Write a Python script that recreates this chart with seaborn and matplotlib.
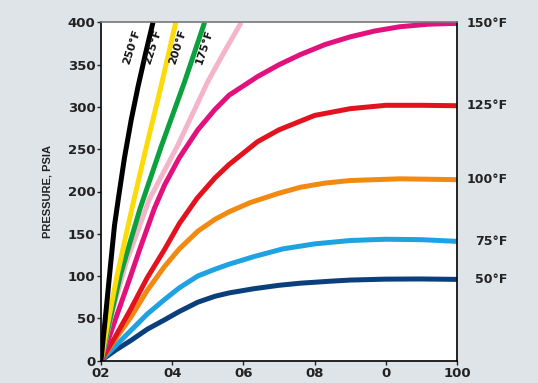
import seaborn as sns
import matplotlib.pyplot as plt
import pandas as pd

# curve data (x = % scale, y = pressure psia)
x_50 = [0, 4, 8.5, 13, 17.8, 22, 27.2, 32, 36, 43, 50, 56, 65, 70, 80, 90, 100]
p_50 = [0, 12, 24, 37, 48, 58, 69, 76, 80, 85, 89, 91.5, 94, 95.2, 96.3, 96.5, 96]

x_75 = [0, 4, 8.5, 13, 17.8, 22, 27.2, 32, 36, 43, 51, 60, 70, 80, 90, 100]
p_75 = [0, 17, 36, 55, 72, 86, 100, 108, 114, 123, 132, 138, 142, 143.5, 143, 141]

x_100 = [0, 4, 8.5, 13, 17.8, 22, 27.2, 32, 36, 42, 50, 56, 63, 70, 84, 100]
p_100 = [0, 25, 52, 83, 111, 132, 153, 167, 176, 187, 198, 205, 210, 213, 215, 214]

x_125 = [0, 4, 8.5, 13, 17.8, 22, 27, 32, 36, 44, 50, 60, 70, 80, 90, 100]
p_125 = [0, 28, 62, 98, 131, 162, 192, 216, 232, 259, 273, 290, 298, 302, 302, 301.5]

x_150 = [0, 4, 8, 11, 15, 17.9, 22, 27.2, 32, 36, 44, 50, 56, 63, 70, 77, 84, 92, 100]
p_150 = [0, 48, 96, 133, 180, 208, 240, 273, 297, 314, 336, 350, 362, 374, 383, 390, 395, 398, 399]

x_175 = [0, 3, 7, 13.5, 21.6, 30, 35, 39.4]
p_175 = [0, 55, 115, 190, 255, 330, 368, 400]

x_200 = [0, 2.5, 5.5, 11, 16.9, 23.5, 29.1]
p_200 = [0, 48, 102, 180, 253, 330, 400]

x_225 = [0, 2, 4.5, 8.7, 12.3, 16.9, 21]
p_225 = [0, 46, 100, 180, 245, 325, 400]

x_250 = [0, 1.5, 2.8, 3.8, 5, 6.6, 8.5, 10.4, 12.5, 14.6]
p_250 = [0, 62, 118, 160, 195, 240, 285, 324, 363, 400]

x_ticks = [0, 20, 40, 60, 80, 100]
x_tick_labels = ["02", "04", "06", "08", "0", "100"]
y_ticks = [0, 50, 100, 150, 200, 250, 300, 350, 400]

curves = [
    ("50°F", x_50, p_50, "#0b3f7c"),
    ("75°F", x_75, p_75, "#1fa2e2"),
    ("100°F", x_100, p_100, "#f28a12"),
    ("125°F", x_125, p_125, "#e2131f"),
    ("150°F", x_150, p_150, "#e2117c"),
    ("175°F", x_175, p_175, "#f4b5cb"),
    ("200°F", x_200, p_200, "#0ba13e"),
    ("225°F", x_225, p_225, "#fbdc0a"),
    ("250°F", x_250, p_250, "#000000"),
]

sns.set_style("ticks")
plt.rcParams['font.family'] = ['DejaVu Sans']

fig = plt.figure(figsize=(5.38, 3.83), dpi=100)
fig.patch.set_facecolor("#dfe4e9")
ax = fig.add_axes([0.1877, 0.0587, 0.6617, 0.8826])
ax.set_facecolor("white")

for label, xs, ps, color in curves:
    df = pd.DataFrame({"x": xs, "p": ps})
    sns.lineplot(data=df, x="x", y="p", color=color, linewidth=3.6,
                 solid_capstyle="butt", solid_joinstyle="round", ax=ax)

ax.set_xlim(0, 100)
ax.set_ylim(0, 400)
ax.set_xticks(x_ticks)
ax.set_xticklabels(x_tick_labels)
ax.set_yticks(y_ticks)
ax.set_xlabel("")
ax.set_ylabel("PRESSURE, PSIA", fontsize=8, fontweight="bold",
              family="Liberation Sans", color="#222222", labelpad=11)
ax.tick_params(axis="both", length=3, width=1, colors="#222222",
               labelsize=9.5)
for lab in ax.get_xticklabels() + ax.get_yticklabels():
    lab.set_fontweight("bold")
ax.tick_params(axis="y", pad=1)
ax.tick_params(axis="x", pad=2)

for side in ["left", "bottom", "right"]:
    ax.spines[side].set_color("black")
    ax.spines[side].set_linewidth(1.2)
ax.spines["top"].set_color("#777777")
ax.spines["top"].set_linewidth(1.2)

# labels on the right for the flattening curves
for label, xs, ps, color in curves[:5]:
    ax.text(114.2, ps[-1], label, ha="right", va="center", fontsize=9,
            fontweight="bold", color="#222222", clip_on=False)

# rotated labels for the steep curves
steep_pos = {"250°F": 8.7, "225°F": 14.6, "200°F": 21.6, "175°F": 29.2}
for label, xpos in steep_pos.items():
    ax.text(xpos, 371, label, ha="center", va="center", rotation=72,
            fontsize=8, fontweight="bold", color="#111111")

plt.savefig("out.png", dpi=100, facecolor=fig.get_facecolor())
